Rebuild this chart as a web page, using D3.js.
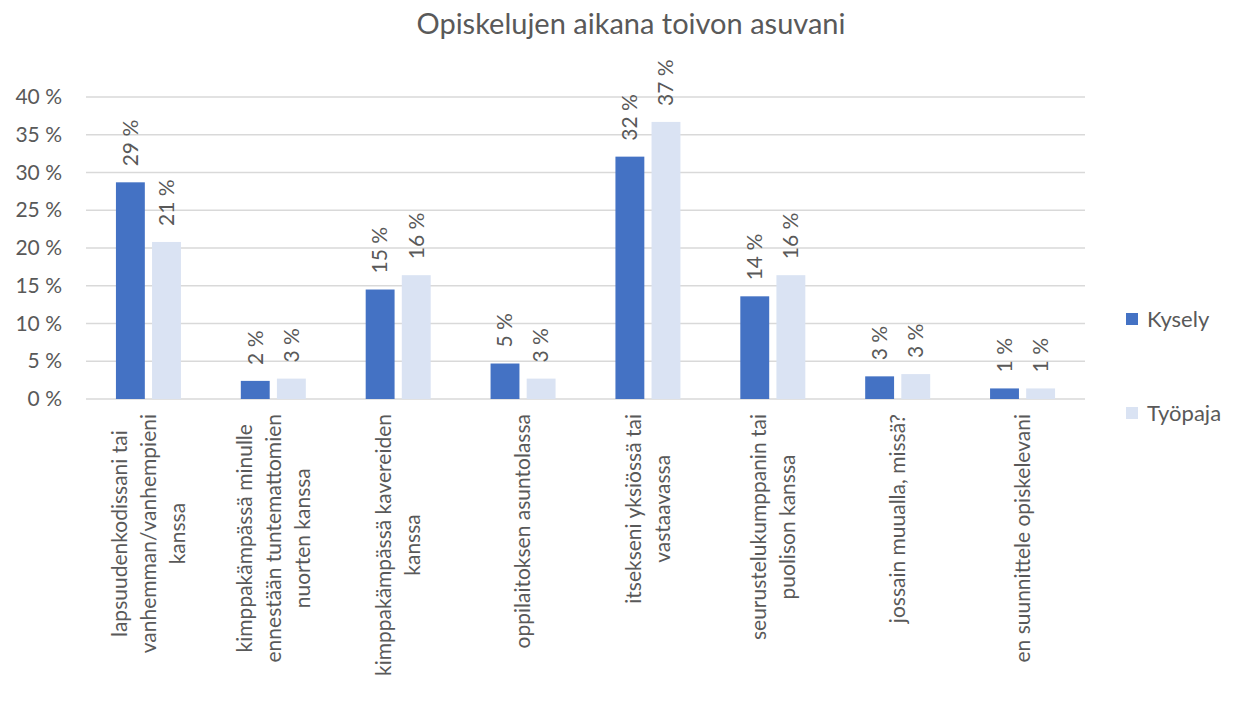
<!DOCTYPE html>
<html>
<head>
<meta charset="utf-8">
<script src="https://cdn.jsdelivr.net/npm/d3@7"></script>
<style>
  body { margin: 0; background: #fff; }
  text { font-family: Lato, "Noto Sans", sans-serif; fill: #595959; }
</style>
</head>
<body>
<script>
// chart data
var categories = [
  "lapsuudenkodissani tai vanhemman/vanhempieni kanssa",
  "kimppakämpässä minulle ennestään tuntemattomien nuorten kanssa",
  "kimppakämpässä kavereiden kanssa",
  "oppilaitoksen asuntolassa",
  "itsekseni yksiössä tai vastaavassa",
  "seurustelukumppanin tai puolison kanssa",
  "jossain muualla, missä?",
  "en suunnittele opiskelevani"
];
// how excel wrapped the labels
var categoryLines = [
  ["lapsuudenkodissani tai", "vanhemman/vanhempieni", "kanssa"],
  ["kimppakämpässä minulle", "ennestään tuntemattomien", "nuorten kanssa"],
  ["kimppakämpässä kavereiden", "kanssa"],
  ["oppilaitoksen asuntolassa"],
  ["itsekseni yksiössä tai", "vastaavassa"],
  ["seurustelukumppanin tai", "puolison kanssa"],
  ["jossain muualla, missä?"],
  ["en suunnittele opiskelevani"]
];
var seriesNames = ["Kysely", "Työpaja"];
var kysely = [28.7, 2.4, 14.5, 4.7, 32.1, 13.6, 3.0, 1.4];
var tyopaja = [20.8, 2.7, 16.4, 2.7, 36.7, 16.4, 3.3, 1.4];
var yTicks = [0, 5, 10, 15, 20, 25, 30, 35, 40];

var colors = { "Kysely": "#4472C4", "Työpaja": "#DAE3F3" };

var width = 1235, height = 709;
var plot = { left: 86, right: 1085, top: 97, bottom: 399 };

var svg = d3.select('body').append('svg')
  .attr('width', width)
  .attr('height', height);

// title
svg.append('text')
  .attr('x', 631)
  .attr('y', 34)
  .attr('text-anchor', 'middle')
  .style('font-size', '29px')
  .text('Opiskelujen aikana toivon asuvani');

// scales
var x0 = d3.scaleBand().domain(categories).range([plot.left, plot.right]);
var x1 = d3.scaleBand().domain(seriesNames).range([0, 65]).paddingInner(0.2);
var y = d3.scaleLinear().domain([0, 40]).range([plot.bottom, plot.top]);

// gridlines
svg.append('g')
  .selectAll('line')
  .data(yTicks)
  .enter().append('line')
  .attr('x1', plot.left)
  .attr('x2', plot.right)
  .attr('y1', function(d) { return y(d); })
  .attr('y2', function(d) { return y(d); })
  .attr('stroke', '#d9d9d9')
  .attr('stroke-width', 1.5);

// y axis labels
var yAxis = d3.axisLeft(y)
  .tickValues(yTicks)
  .tickSize(0)
  .tickPadding(24)
  .tickFormat(function(d) { return d + ' %'; });

var yg = svg.append('g')
  .attr('transform', 'translate(' + plot.left + ',0)')
  .call(yAxis);
yg.select('.domain').remove();
yg.selectAll('text')
  .style('font-size', '21px')
  .style('font-family', 'Lato, "Noto Sans", sans-serif')
  .attr('fill', '#595959');

// bars
var rows = categories.map(function(c, i) {
  return { cat: c, values: [
    { name: 'Kysely', value: kysely[i] },
    { name: 'Työpaja', value: tyopaja[i] }
  ] };
});

var offset = (x0.bandwidth() - 65) / 2;

var groups = svg.append('g')
  .selectAll('g')
  .data(rows)
  .enter().append('g')
  .attr('transform', function(d) { return 'translate(' + (x0(d.cat) + offset) + ',0)'; });

groups.selectAll('rect')
  .data(function(d) { return d.values; })
  .enter().append('rect')
  .attr('x', function(d) { return x1(d.name); })
  .attr('width', x1.bandwidth())
  .attr('y', function(d) { return y(d.value); })
  .attr('height', function(d) { return y(0) - y(d.value); })
  .attr('fill', function(d) { return colors[d.name]; });

// data labels, rotated
groups.selectAll('text.val')
  .data(function(d) { return d.values; })
  .enter().append('text')
  .attr('class', 'val')
  .attr('transform', function(d) {
    return 'translate(' + (x1(d.name) + x1.bandwidth() / 2) + ',' + (y(d.value) - 16) + ') rotate(-90)';
  })
  .attr('dy', '0.35em')
  .style('font-size', '21px')
  .text(function(d) { return Math.round(d.value) + ' %'; });

// category labels, rotated and centered line by line
var lineGap = 29;
categories.forEach(function(c, i) {
  var lines = categoryLines[i];
  var cx = x0(c) + x0.bandwidth() / 2;
  var g = svg.append('g');
  var texts = lines.map(function(line, j) {
    return g.append('text')
      .attr('text-anchor', 'middle')
      .attr('dy', '0.35em')
      .style('font-size', '21px')
      .text(line);
  });
  var maxLen = d3.max(texts, function(t) { return t.node().getComputedTextLength(); });
  var cy = 414 + maxLen / 2;
  texts.forEach(function(t, j) {
    var lx = cx + (j - (lines.length - 1) / 2) * lineGap;
    t.attr('transform', 'translate(' + lx + ',' + cy + ') rotate(-90)');
  });
});

// legend
var legend = svg.append('g')
  .selectAll('g')
  .data(seriesNames)
  .enter().append('g')
  .attr('transform', function(d, i) { return 'translate(1126,' + (313 + i * 94) + ')'; });

legend.append('rect')
  .attr('width', 12)
  .attr('height', 12)
  .attr('fill', function(d) { return colors[d]; });

legend.append('text')
  .attr('x', 21)
  .attr('y', 6)
  .attr('dy', '0.35em')
  .style('font-size', '22px')
  .text(function(d) { return d; });
</script>
</body>
</html>
